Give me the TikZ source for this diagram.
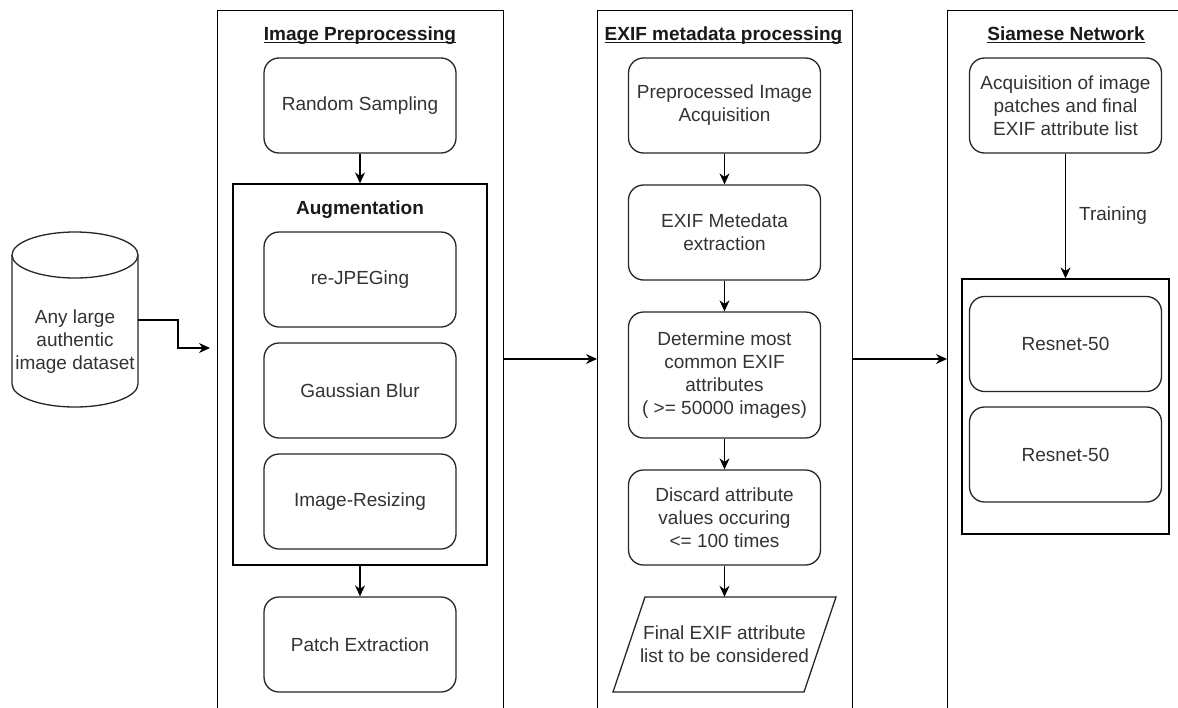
\documentclass[tikz,border=0pt]{standalone}
\usepackage{fontspec}
\setmainfont{Liberation Sans}
\usetikzlibrary{arrows.meta}
\begin{document}
\begin{tikzpicture}[x=1pt,y=-1pt,
  box/.style={draw=black!85, line width=1.3pt, rounded corners=15pt, minimum width=192pt, minimum height=95pt, align=center, text=black!80, font=\fontsize{19}{23}\selectfont, inner sep=2pt},
  panel/.style={draw=black, line width=1.4pt, anchor=north west, inner sep=0pt},
  group/.style={draw=black, line width=1.2pt, inner sep=0pt},
  ptitle/.style={font=\fontsize{19}{23}\selectfont\bfseries, text=black!90, inner sep=0pt, anchor=base},
  plain/.style={align=center, text=black!80, font=\fontsize{19}{23}\selectfont, inner sep=0pt},
  arr/.style={-{Stealth[length=11pt,width=10pt]}, line width=1.2pt, draw=black},
  uline/.style={line width=1pt, draw=black!90}]
\useasboundingbox (0,0) rectangle (1178,707);
\clip (0,0) rectangle (1178,707);
\fill[white] (0,0) rectangle (1178,707);

% database cylinder
\fill[white] (12,255) -- (12,384) arc[start angle=180,end angle=360,x radius=63pt,y radius=23pt] -- (138,255) -- cycle;
\draw[line width=1.3pt, black!85] (12,255) -- (12,384) arc[start angle=180,end angle=360,x radius=63pt,y radius=23pt] -- (138,255);
\draw[line width=1.3pt, black!85, fill=white] (75,255) ellipse[x radius=63pt, y radius=23pt];
\node[plain] (db) at (75,342) {Any large\\authentic\\image dataset};
\coordinate (dbout) at (138,320);
\coordinate (p1in) at (210,348);

% panels
\node[panel, minimum width=286pt, minimum height=740pt] (p1) at (217,10) {};
\node[panel, minimum width=255pt, minimum height=740pt] (p2) at (597,10) {};
\node[panel, minimum width=260pt, minimum height=740pt] (p3) at (947,10) {};

% titles
\node[ptitle] (t1) at (360,40) {Image Preprocessing};
\draw[uline] ([yshift=-2.5pt]t1.base west) -- ([yshift=-2.5pt]t1.base east);
\node[ptitle] (t2) at (723.5,40) {EXIF metadata processing};
\draw[uline] ([yshift=-2.5pt]t2.base west) -- ([yshift=-2.5pt]t2.base east);
\node[ptitle] (t3) at (1066,40) {Siamese Network};
\draw[uline] ([yshift=-2.5pt]t3.base west) -- ([yshift=-2.5pt]t3.base east);

% panel 1
\node[box] (rs) at (360,105.5) {Random Sampling};
\node[group, minimum width=254pt, minimum height=381pt] (aug) at (360,374.5) {};
\node[ptitle] (augt) at (360,214) {Augmentation};
\node[box] (rj) at (360,279.5) {re-JPEGing};
\node[box] (gb) at (360,390.5) {Gaussian Blur};
\node[box] (ir) at (360,501.5) {Image-Resizing};
\node[box] (pe) at (360,644.5) {Patch Extraction};
\draw[arr] (rs) -- (aug);
\draw[arr] (aug) -- (pe);

% panel 2
\node[box] (pia) at (724.5,105.5) {Preprocessed Image\\Acquisition};
\node[box] (mex) at (724.5,232.5) {EXIF Metedata\\extraction};
\node[box, minimum height=126pt] (det) at (724.5,375) {Determine most\\common EXIF\\attributes\\( >= 50000 images)};
\node[box] (dis) at (724.5,517.5) {Discard attribute\\values occuring\\<= 100 times};
\node[plain, minimum width=191pt, minimum height=95pt] (fin) at (724.5,644.5) {Final EXIF attribute\\list to be considered};
\draw[line width=1.3pt, black!85] (fin.center) ++(-111.5,47.5) -- ++(32,-95) -- ++(191,0) -- ++(-32,95) -- cycle;
\draw[arr] (pia) -- (mex);
\draw[arr] (mex) -- (det);
\draw[arr] (det) -- (dis);
\draw[arr] (dis) -- (fin);

% panel 3
\node[box] (acq) at (1065.5,105.5) {Acquisition of image\\patches and final\\EXIF attribute list};
\node[group, minimum width=207pt, minimum height=255pt] (net) at (1065.5,406.5) {};
\node[box] (r1) at (1065.5,344) {Resnet-50};
\node[box] (r2) at (1065.5,454.5) {Resnet-50};
\draw[arr] (acq) -- (net) node[midway, right=13pt, plain] (tr) {Training};

% connectors between stages
\coordinate (mid) at (0,359);
\draw[arr] (dbout) -- ++(40,0) |- (p1in);
\draw[arr] (p1.east |- mid) -- (p2.west |- mid);
\draw[arr] (p2.east |- mid) -- (p3.west |- mid);
\end{tikzpicture}
\end{document}
